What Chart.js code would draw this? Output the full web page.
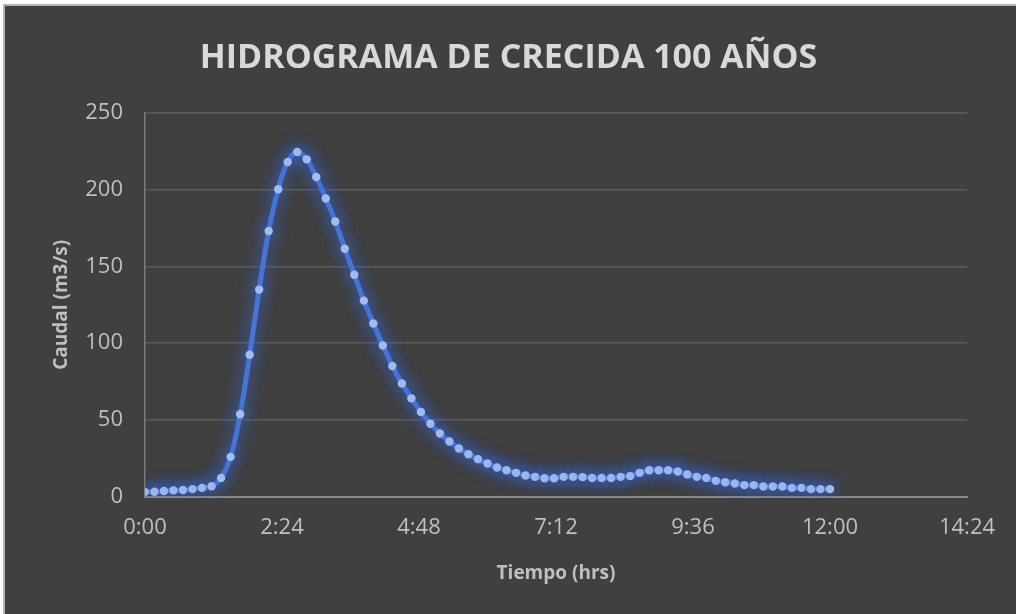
<!DOCTYPE html>
<html lang="es">
<head>
    <meta charset="UTF-8" />
    <title>Hidrograma de crecida 100 años</title>
    <style>
        html, body {
            margin: 0;
            padding: 0;
            background: #ffffff;
            overflow: hidden;
        }
        #chart-container {
            position: absolute;
            left: 3px;
            top: 4px;
            right: 0;
            bottom: 0;
            background: #404040;
            border-left: 2px solid #b4b4b4;
            border-top: 2px solid #b4b4b4;
        }
    </style>
    <script src="https://cdn.jsdelivr.net/npm/chart.js"></script>
</head>
<body>
<div id="chart-container">
    <canvas id="hidrograma"></canvas>
</div>

<script>
  // Tiempo (h:mm) y caudal (m3/s), cada 10 minutos
  const tiempos = [
    "0:00", "0:10", "0:20", "0:30", "0:40", "0:50",
    "1:00", "1:10", "1:20", "1:30", "1:40", "1:50",
    "2:00", "2:10", "2:20", "2:30", "2:40", "2:50",
    "3:00", "3:10", "3:20", "3:30", "3:40", "3:50",
    "4:00", "4:10", "4:20", "4:30", "4:40", "4:50",
    "5:00", "5:10", "5:20", "5:30", "5:40", "5:50",
    "6:00", "6:10", "6:20", "6:30", "6:40", "6:50",
    "7:00", "7:10", "7:20", "7:30", "7:40", "7:50",
    "8:00", "8:10", "8:20", "8:30", "8:40", "8:50",
    "9:00", "9:10", "9:20", "9:30", "9:40", "9:50",
    "10:00", "10:10", "10:20", "10:30", "10:40", "10:50",
    "11:00", "11:10", "11:20", "11:30", "11:40", "11:50",
    "12:00"
  ];

  const caudal = [
    3.2, 3.3, 3.8, 4.2, 4.4, 5.0,
    5.8, 6.9, 12.3, 26.0, 53.7, 92.5,
    134.9, 173.0, 200.2, 218.0, 224.5, 219.7,
    208.2, 194.2, 179.2, 161.5, 144.6, 127.7,
    112.8, 98.5, 85.1, 73.8, 64.1, 55.2,
    47.6, 41.2, 36.0, 31.4, 27.7, 24.5,
    21.7, 19.1, 17.3, 15.6, 13.9, 13.0,
    12.1, 12.1, 13.0, 13.0, 12.8, 12.2,
    12.3, 12.3, 13.0, 13.6, 15.6, 17.3,
    17.3, 17.3, 16.5, 14.5, 13.0, 12.3,
    10.4, 9.5, 8.7, 7.6, 7.6, 6.7,
    6.7, 6.7, 5.8, 5.8, 5.0, 5.0,
    5.0
  ];

  // ejes
  const ejeTiempoMax = "14:24";
  const ejeTiempoPaso = "2:24";
  const ejeCaudalMax = 250;
  const ejeCaudalPaso = 50;

  function aHoras(txt) {
    const [h, m] = txt.split(":").map(Number);
    return h + m / 60;
  }

  function aTexto(horas) {
    const min = Math.round(horas * 60);
    const h = Math.floor(min / 60);
    const m = min % 60;
    return h + ":" + String(m).padStart(2, "0");
  }

  const puntos = tiempos.map((t, i) => ({ x: aHoras(t), y: caudal[i] }));

  // brillo azul alrededor de la curva
  const brillo = {
    id: "brillo",
    beforeDatasetsDraw(chart) {
      const ctx = chart.ctx;
      ctx.save();
      ctx.shadowColor = "rgba(55, 105, 235, 1)";
      ctx.shadowBlur = 16;
    },
    afterDatasetsDraw(chart) {
      chart.ctx.restore();
    },
  };

  const gris = "#bfbfbf";
  const fuente = "'Open Sans', sans-serif";

  const ctx = document.getElementById("hidrograma").getContext("2d");
  new Chart(ctx, {
    type: "scatter",
    data: {
      datasets: [
        {
          label: "Caudal",
          data: puntos,
          showLine: true,
          borderColor: "#4576d6",
          borderWidth: 5,
          tension: 0.4,
          pointRadius: 4.2,
          pointBackgroundColor: "#a3bcef",
          pointBorderColor: "#a3bcef",
          pointBorderWidth: 0,
        },
      ],
    },
    options: {
      responsive: true,
      maintainAspectRatio: false,
      animation: false,
      layout: {
        padding: { left: 45, right: 49, top: 22, bottom: 25 },
      },
      scales: {
        x: {
          type: "linear",
          min: 0,
          max: aHoras(ejeTiempoMax),
          grid: { display: false },
          border: { display: true, color: "#8a8a8a", width: 2 },
          ticks: {
            stepSize: aHoras(ejeTiempoPaso),
            color: gris,
            padding: 10,
            maxRotation: 0,
            font: { family: fuente, size: 22 },
            callback: (v) => aTexto(v),
          },
          title: {
            display: true,
            text: "Tiempo (hrs)",
            color: gris,
            padding: { top: 11 },
            font: { family: fuente, size: 19, weight: "bold" },
          },
        },
        y: {
          min: 0,
          max: ejeCaudalMax,
          afterFit: (scale) => { scale.width = 95; },
          grid: { color: "#5c5c5c", lineWidth: 1.5, drawTicks: false },
          border: { display: true, color: "#7a7a7a", width: 1.5 },
          ticks: {
            stepSize: ejeCaudalPaso,
            color: gris,
            padding: 22,
            font: { family: fuente, size: 22 },
          },
          title: {
            display: true,
            text: "Caudal (m3/s)",
            color: gris,
            padding: { top: 0, bottom: 0 },
            font: { family: fuente, size: 19, weight: "bold" },
          },
        },
      },
      plugins: {
        legend: { display: false },
        tooltip: { enabled: false },
        title: {
          display: true,
          text: "HIDROGRAMA DE CRECIDA 100 AÑOS",
          color: "#d9d9d9",
          padding: { top: 10, bottom: 34 },
          font: { family: fuente, size: 34, weight: "bold" },
        },
      },
    },
    plugins: [brillo],
  });
</script>

</body>
</html>
